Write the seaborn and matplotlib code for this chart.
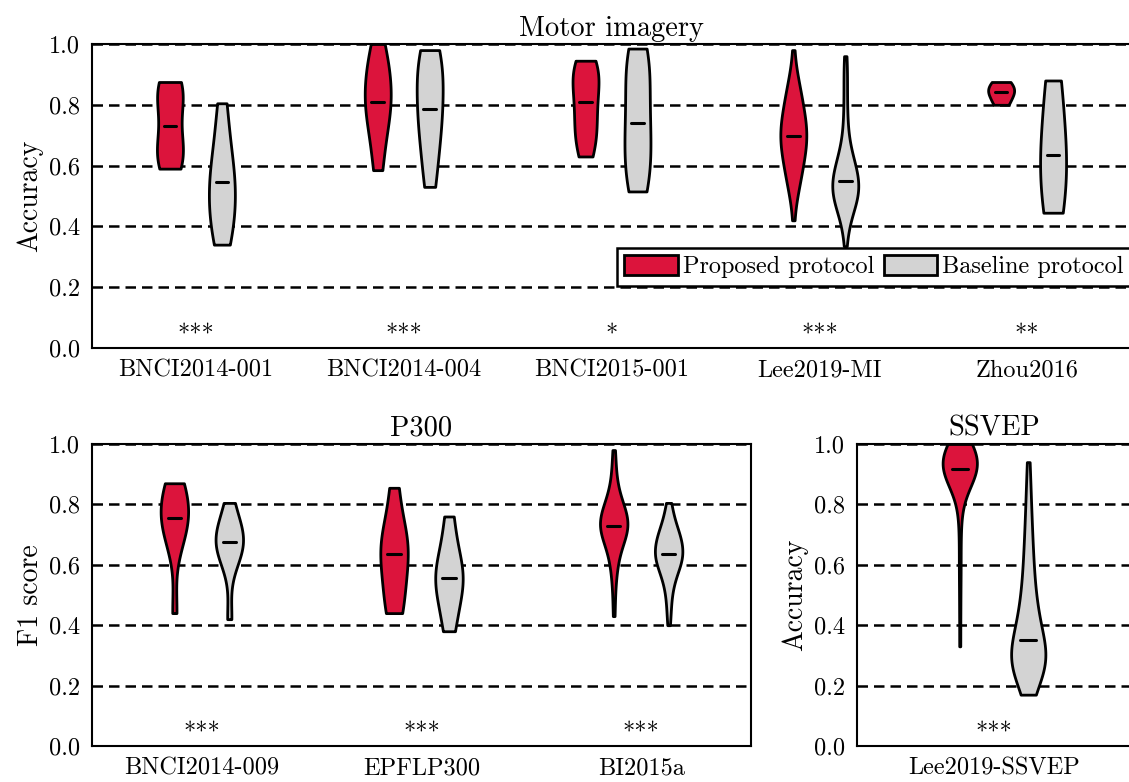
import numpy as np
import pandas as pd
import seaborn as sns
import matplotlib
matplotlib.use('Agg')
import matplotlib.pyplot as plt
from matplotlib.patches import Patch

# ---- data (per-subject scores) ----
protocols = ['Proposed protocol', 'Baseline protocol']
colors = ['#DC143C', '#D3D3D3']

mi_datasets = ['BNCI2014-001', 'BNCI2014-004', 'BNCI2015-001', 'Lee2019-MI', 'Zhou2016']
mi_stars = ['***', '***', '*', '***', '**']

bnci001_prop = [0.59, 0.61, 0.64, 0.67, 0.73, 0.80, 0.84, 0.86, 0.875]
bnci001_base = [0.34, 0.39, 0.44, 0.48, 0.545, 0.56, 0.62, 0.70, 0.805]
bnci004_prop = [0.585, 0.68, 0.75, 0.79, 0.81, 0.86, 0.90, 0.94, 1.0]
bnci004_base = [0.53, 0.62, 0.70, 0.76, 0.785, 0.86, 0.91, 0.95, 0.98]
bnci2015_prop = [0.63, 0.66, 0.70, 0.72, 0.76, 0.80, 0.82, 0.87, 0.89, 0.91, 0.93, 0.945]
bnci2015_base = [0.515, 0.54, 0.58, 0.63, 0.68, 0.72, 0.76, 0.82, 0.88, 0.93, 0.96, 0.985]
leemi_prop = [0.42, 0.486, 0.505, 0.521, 0.534, 0.546, 0.557, 0.568, 0.577, 0.586, 0.594,
              0.603, 0.61, 0.618, 0.625, 0.632, 0.639, 0.645, 0.652, 0.658, 0.664, 0.67,
              0.676, 0.681, 0.687, 0.692, 0.695, 0.703, 0.708, 0.713, 0.719, 0.724, 0.73,
              0.736, 0.742, 0.748, 0.755, 0.761, 0.768, 0.775, 0.782, 0.79, 0.797, 0.806,
              0.814, 0.823, 0.832, 0.843, 0.854, 0.866, 0.879, 0.895, 0.914, 0.98]
leemi_base = [0.335, 0.38, 0.41, 0.43, 0.44, 0.45, 0.46, 0.47, 0.475, 0.48, 0.485, 0.49,
              0.495, 0.50, 0.50, 0.505, 0.51, 0.51, 0.515, 0.52, 0.52, 0.525, 0.525, 0.53,
              0.535, 0.545, 0.55, 0.55, 0.555, 0.56, 0.565, 0.57, 0.575, 0.58, 0.585, 0.59,
              0.595, 0.60, 0.605, 0.61, 0.62, 0.63, 0.64, 0.65, 0.67, 0.69, 0.72, 0.75,
              0.78, 0.82, 0.86, 0.90, 0.93, 0.96]
zhou_prop = [0.80, 0.835, 0.85, 0.875]
zhou_base = [0.445, 0.58, 0.69, 0.88]

p300_datasets = ['BNCI2014-009', 'EPFLP300', 'BI2015a']
p300_stars = ['***', '***', '***']

bnci009_prop = [0.44, 0.66, 0.71, 0.74, 0.75, 0.76, 0.80, 0.83, 0.86, 0.87]
bnci009_base = [0.42, 0.60, 0.64, 0.66, 0.67, 0.68, 0.70, 0.72, 0.75, 0.805]
epfl_prop = [0.44, 0.47, 0.55, 0.62, 0.65, 0.68, 0.72, 0.855]
epfl_base = [0.38, 0.45, 0.52, 0.55, 0.56, 0.60, 0.66, 0.76]
bi2015_prop = [0.43, 0.50, 0.55, 0.58, 0.60, 0.62, 0.64, 0.65, 0.66, 0.67, 0.68, 0.69,
               0.695, 0.70, 0.705, 0.71, 0.715, 0.72, 0.722, 0.725, 0.725, 0.73, 0.735,
               0.74, 0.745, 0.75, 0.755, 0.76, 0.765, 0.77, 0.775, 0.78, 0.785, 0.79, 0.80,
               0.81, 0.82, 0.83, 0.85, 0.87, 0.90, 0.94, 0.98]
bi2015_base = [0.40, 0.44, 0.47, 0.50, 0.52, 0.54, 0.55, 0.56, 0.57, 0.58, 0.59, 0.595,
               0.60, 0.605, 0.61, 0.615, 0.62, 0.625, 0.63, 0.63, 0.635, 0.635, 0.64, 0.65,
               0.655, 0.66, 0.665, 0.67, 0.675, 0.68, 0.685, 0.69, 0.695, 0.70, 0.705, 0.71,
               0.72, 0.73, 0.74, 0.75, 0.77, 0.79, 0.805]

ssvep_datasets = ['Lee2019-SSVEP']
ssvep_stars = ['***']

leessvep_prop = [0.33, 0.45, 0.55, 0.62, 0.70, 0.76, 0.80, 0.83, 0.85, 0.86, 0.87, 0.875,
                 0.88, 0.885, 0.89, 0.895, 0.90, 0.90, 0.905, 0.905, 0.91, 0.91, 0.91, 0.915,
                 0.915, 0.915, 0.915, 0.92, 0.92, 0.925, 0.93, 0.935, 0.94, 0.945, 0.95, 0.955,
                 0.96, 0.96, 0.965, 0.97, 0.97, 0.975, 0.975, 0.98, 0.98, 0.985, 0.985, 0.99,
                 0.99, 0.995, 0.995, 1.0, 1.0, 1.0]
leessvep_base = [0.17, 0.20, 0.22, 0.235, 0.245, 0.25, 0.255, 0.26, 0.265, 0.27, 0.27, 0.275,
                 0.275, 0.28, 0.28, 0.285, 0.285, 0.29, 0.29, 0.295, 0.30, 0.305, 0.31, 0.315,
                 0.32, 0.33, 0.34, 0.36, 0.37, 0.38, 0.39, 0.40, 0.41, 0.42, 0.43, 0.44,
                 0.45, 0.46, 0.48, 0.50, 0.52, 0.54, 0.56, 0.58, 0.60, 0.62, 0.65, 0.68,
                 0.71, 0.74, 0.78, 0.82, 0.88, 0.94]


def make_df(datasets, scores):
    rows = []
    for name, (prop, base) in zip(datasets, scores):
        for v in prop:
            rows.append((name, protocols[0], v))
        for v in base:
            rows.append((name, protocols[1], v))
    return pd.DataFrame(rows, columns=['dataset', 'protocol', 'score'])


def draw_panel(ax, df, datasets, stars, title, ylabel):
    sns.violinplot(data=df, x='dataset', y='score', hue='protocol', order=datasets,
                   hue_order=protocols, palette=colors, saturation=1, cut=0, inner=None,
                   width=0.5, gap=0.5, density_norm='width', linewidth=2.0,
                   linecolor='black', legend=False, ax=ax)
    # median markers
    for i, name in enumerate(datasets):
        for j, prot in enumerate(protocols):
            med = df[(df.dataset == name) & (df.protocol == prot)].score.median()
            xc = i + (-0.125 if j == 0 else 0.125)
            ax.plot([xc - 0.03, xc + 0.03], [med, med], color='black', lw=2.2, zorder=5)
        ax.text(i, 0.02, stars[i], ha='center', va='baseline', fontsize=17.5)
    ax.set_xlim(-0.5, len(datasets) - 0.5)
    ax.set_ylim(0, 1)
    ax.set_yticks([0, 0.2, 0.4, 0.6, 0.8, 1.0])
    ax.set_yticklabels(['0.0', '0.2', '0.4', '0.6', '0.8', '1.0'])
    ax.set_xlabel('')
    ax.set_ylabel(ylabel, fontsize=20)
    ax.set_title(title, fontsize=20.5)
    ax.set_axisbelow(True)
    ax.yaxis.grid(True, color='black', linewidth=1.8, dashes=(4.2, 2.4))
    ax.xaxis.grid(False)
    for s in ax.spines.values():
        s.set_linewidth(1.5)
        s.set_color('black')
    ax.tick_params(labelsize=17.5, width=1.5, length=5, color='black', labelcolor='black')


sns.set_style('white')
plt.rcParams['font.family'] = ['cmr10', 'DejaVu Serif']
plt.rcParams['axes.formatter.use_mathtext'] = True
plt.rcParams['axes.unicode_minus'] = False
plt.rcParams['text.color'] = 'black'
plt.rcParams['axes.labelcolor'] = 'black'

fig = plt.figure(figsize=(11.29, 7.82), dpi=100)
W, H = 1129, 782
ax_mi = fig.add_axes([92 / W, 1 - 348 / H, (1131 - 92) / W, 304 / H])
ax_p3 = fig.add_axes([92 / W, 1 - 746 / H, (751 - 92) / W, 302 / H])
ax_ss = fig.add_axes([857 / W, 1 - 746 / H, (1131 - 857) / W, 302 / H])

mi_df = make_df(mi_datasets, [(bnci001_prop, bnci001_base), (bnci004_prop, bnci004_base),
                              (bnci2015_prop, bnci2015_base), (leemi_prop, leemi_base),
                              (zhou_prop, zhou_base)])
p3_df = make_df(p300_datasets, [(bnci009_prop, bnci009_base), (epfl_prop, epfl_base),
                                (bi2015_prop, bi2015_base)])
ss_df = make_df(ssvep_datasets, [(leessvep_prop, leessvep_base)])

draw_panel(ax_mi, mi_df, mi_datasets, mi_stars, 'Motor imagery', 'Accuracy')
draw_panel(ax_p3, p3_df, p300_datasets, p300_stars, 'P300', 'F1 score')
draw_panel(ax_ss, ss_df, ssvep_datasets, ssvep_stars, 'SSVEP', 'Accuracy')

handles = [Patch(facecolor=c, edgecolor='black', linewidth=2.0) for c in colors]
leg = ax_mi.legend(handles, protocols, ncol=2, loc='lower right', bbox_to_anchor=(1.0, 0.205),
                   borderaxespad=0, fontsize=17.5, fancybox=False, framealpha=1,
                   edgecolor='black', handlelength=2.2, handleheight=0.85, handletextpad=0.2,
                   columnspacing=0.4, borderpad=0.3)
leg.get_frame().set_linewidth(1.8)

fig.savefig('out.png', dpi=100)
